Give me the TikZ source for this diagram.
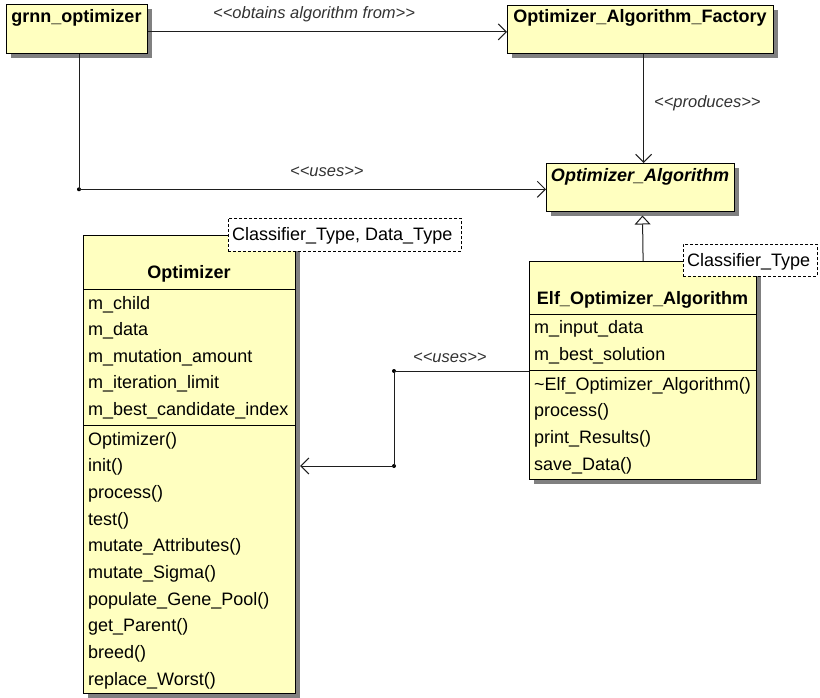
\documentclass[tikz,border=0pt]{standalone}
\usepackage{fontspec}
\setmainfont{Liberation Sans}
\newfontfamily\umlfont{Liberation Sans}
\usetikzlibrary{arrows.meta,shadows}
\definecolor{umlfill}{RGB}{255,255,192}
\definecolor{umlshadow}{RGB}{128,128,128}
\definecolor{umlline}{RGB}{30,30,30}
\definecolor{lbltext}{RGB}{50,50,50}
\tikzset{
  classbox/.style={draw=black, fill=umlfill, line width=1.2pt, inner sep=0pt, anchor=north west,
    drop shadow={shadow xshift=4pt, shadow yshift=-4pt, fill=umlshadow, opacity=1}},
  tmplbox/.style={draw=black, fill=white, line width=0.9pt, dash pattern=on 3pt off 2pt, inner sep=0pt, anchor=north west},
  row/.style={anchor=base west, inner sep=0pt, font=\umlfont\fontsize{18}{21}\selectfont},
  ctitle/.style={anchor=base, inner sep=0pt, font=\umlfont\fontsize{18}{21}\selectfont\bfseries},
  lbl/.style={anchor=base west, inner sep=0pt, font=\umlfont\fontsize{16.5}{20}\selectfont\itshape, text=lbltext},
  conn/.style={draw=umlline, line width=1pt},
  dep/.style={conn, -{Straight Barb[length=8pt,width=16pt]}},
  inh/.style={conn, -{Triangle[open,length=9pt,width=16pt,fill=white]}},
  junction/.style={circle, fill=black, inner sep=0pt, minimum size=4pt},
  divider/.style={draw=black, line width=1pt},
}
\begin{document}
\begin{tikzpicture}[x=1pt,y=-1pt]
\useasboundingbox (0,0) rectangle (820,698);

% class boxes
\node[classbox, minimum width=141pt, minimum height=49pt] (grnn) at (6,4) {};
\node[classbox, minimum width=266pt, minimum height=48pt] (fact) at (507,5) {};
\node[classbox, minimum width=188pt, minimum height=48pt] (oa) at (546,163) {};
\node[classbox, minimum width=212pt, minimum height=458pt] (opt) at (83,235) {};
\node[classbox, minimum width=227pt, minimum height=218pt] (elf) at (529,261) {};

% dividers
\draw[divider] (opt.west |- 0,289) -- (opt.east |- 0,289);
\draw[divider] (opt.west |- 0,425) -- (opt.east |- 0,425);
\draw[divider] (elf.west |- 0,314) -- (elf.east |- 0,314);
\draw[divider] (elf.west |- 0,370) -- (elf.east |- 0,370);

% template parameter boxes
\node[tmplbox, minimum width=233pt, minimum height=33pt] (optT) at (228,218) {};
\node[tmplbox, minimum width=134pt, minimum height=32pt] (elfT) at (683,244) {};
\node[row] (optTt) at (232,240.7) {Classifier\_Type, Data\_Type};
\node[row] (elfTt) at (687,266.7) {Classifier\_Type};

% titles
\node[ctitle] (grnnN) at (76.5,23) {grnn\_optimizer};
\node[ctitle] (factN) at (640,23) {Optimizer\_Algorithm\_Factory};
\node[ctitle, font=\umlfont\fontsize{18}{21}\selectfont\bfseries\itshape] (oaN) at (640,181.7) {Optimizer\_Algorithm};
\node[ctitle] (optN) at (189,278) {Optimizer};
\node[ctitle] (elfN) at (642.5,304) {Elf\_Optimizer\_Algorithm};

% Optimizer members
\node[row] (o1) at (88,309) {m\_child};
\node[row] (o2) at (88,335.6) {m\_data};
\node[row] (o3) at (88,362.2) {m\_mutation\_amount};
\node[row] (o4) at (88,388.8) {m\_iteration\_limit};
\node[row] (o5) at (88,415.4) {m\_best\_candidate\_index};
\node[row] (m1) at (88,445) {Optimizer()};
\node[row] (m2) at (88,471.7) {init()};
\node[row] (m3) at (88,498.3) {process()};
\node[row] (m4) at (88,525) {test()};
\node[row] (m5) at (88,551.7) {mutate\_Attributes()};
\node[row] (m6) at (88,578.3) {mutate\_Sigma()};
\node[row] (m7) at (88,605) {populate\_Gene\_Pool()};
\node[row] (m8) at (88,631.7) {get\_Parent()};
\node[row] (m9) at (88,658.3) {breed()};
\node[row] (m10) at (88,685) {replace\_Worst()};

% Elf members
\node[row] (e1) at (534,333.3) {m\_input\_data};
\node[row] (e2) at (534,360) {m\_best\_solution};
\node[row] (e3) at (534,390) {\textasciitilde Elf\_Optimizer\_Algorithm()};
\node[row] (e4) at (534,416.7) {process()};
\node[row] (e5) at (534,443.3) {print\_Results()};
\node[row] (e6) at (534,470) {save\_Data()};

% junctions
\node[junction] (j1) at (79,189.3) {};
\node[junction] (j2) at (394,371) {};
\node[junction] (j3) at (394,466) {};
\coordinate (oaShadowBottom) at (642.5,215.5);

% connectors
\draw[dep] ([yshift=-2.8pt]grnn.east) -- ([yshift=-2.8pt]grnn.east -| fact.west);
\draw[dep] ([xshift=3pt]fact.south) -- ([xshift=3pt]fact.south |- oa.north);
\draw[conn] (grnn.south -| j1) -- (j1.center);
\draw[dep] (j1.center) -- (j1.center -| oa.west);
\draw[inh] (elf.north) -- (oaShadowBottom);
\draw[conn] (elf.west |- j2) -- (j2.center) -- (j3.center);
\draw[dep, shorten >=4pt] (j3.center) -- (j3.center -| opt.east);

% labels
\node[lbl] (l1) at (213,18.5) {<<obtains algorithm from>>};
\node[lbl] (l2) at (654,108) {<<produces>>};
\node[lbl] (l3) at (290,177) {<<uses>>};
\node[lbl] (l4) at (413,362) {<<uses>>};
\end{tikzpicture}
\end{document}
